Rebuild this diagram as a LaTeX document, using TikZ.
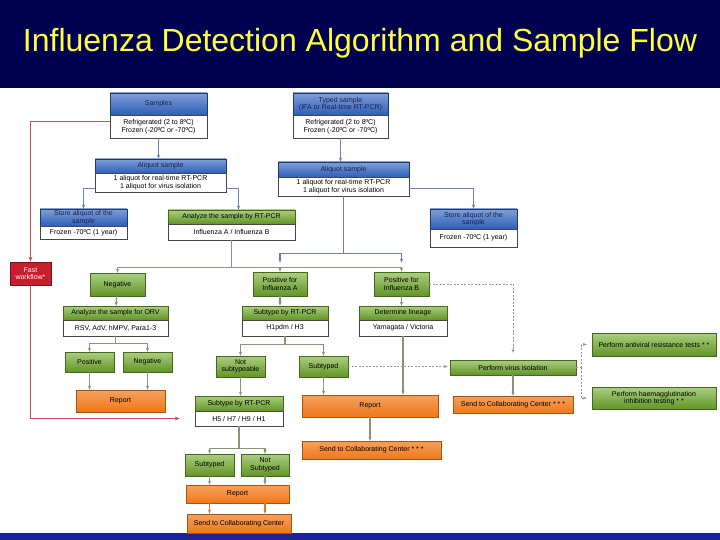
\documentclass[tikz,border=0pt]{standalone}
\usepackage{fontspec}
\setmainfont{Liberation Sans}
\usetikzlibrary{arrows.meta,shadows}
\definecolor{fluNavy}{RGB}{0,0,80}
\definecolor{fluYellow}{RGB}{255,255,60}
\definecolor{fluBlue}{RGB}{45,95,185}
\definecolor{fluGreen}{RGB}{115,175,45}
\definecolor{fluOrange}{RGB}{240,120,25}
\definecolor{fluRed}{RGB}{200,30,45}
\definecolor{fluInk}{RGB}{25,30,80}
\definecolor{barBlue}{RGB}{25,35,150}
\definecolor{lineBlue}{RGB}{110,130,175}
\definecolor{lineGreen}{RGB}{135,150,115}
\definecolor{lineGray}{RGB}{150,150,150}
\definecolor{lineRed}{RGB}{185,85,95}
\pgfdeclarelayer{back}
\pgfdeclarelayer{lines}
\pgfsetlayers{back,lines,main}
\tikzset{
  base/.style={inner sep=0pt, align=center, font=\fontsize{7}{7.5}\selectfont,
               drop shadow={opacity=0.25, shadow xshift=1pt, shadow yshift=-1pt}},
  bluehead/.style={base, draw=fluBlue!60!black, top color=fluBlue!60!white, bottom color=fluBlue, text=fluInk},
  bodybox/.style={base, draw=gray!55!black, fill=white},
  greenhead/.style={base, draw=fluGreen!60!black, top color=fluGreen!60!white, bottom color=fluGreen!85!black},
  orangebox/.style={base, draw=fluOrange!70!black, top color=fluOrange!70!white, bottom color=fluOrange},
  redbox/.style={base, draw=fluRed!60!black, fill=fluRed, text=white!85!pink},
  bluearrow/.style={-{Stealth[length=1.5mm]}, line width=1.1pt, draw=lineBlue},
  blueline/.style={line width=1.1pt, draw=lineBlue},
  greenarrow/.style={-{Stealth[length=1.5mm]}, line width=1.1pt, draw=lineGreen},
  greenline/.style={line width=1.1pt, draw=lineGreen},
  orangearrow/.style={-{Stealth[length=1.5mm]}, line width=1.1pt, draw=fluOrange!80!gray},
  redarrow/.style={-{Stealth[length=1.8mm]}, line width=1.1pt, draw=lineRed},
  dasharrow/.style={-{Stealth[length=1.4mm]}, line width=0.9pt, draw=lineGray, dash pattern=on 2pt off 1.5pt},
  dashline/.style={line width=0.9pt, draw=lineGray, dash pattern=on 2pt off 1.5pt}
}

\begin{document}
\begin{tikzpicture}[x=1pt, y=-1pt]
\useasboundingbox (0,0) rectangle (720,540);
\begin{pgfonlayer}{back}
\fill[white] (0,0) rectangle (720,540);
\fill[fluNavy] (0,0) rectangle (720,88);
\fill[barBlue] (0,533) rectangle (720,540);
\end{pgfonlayer}
\node[text=fluYellow, font=\fontsize{32}{34}\selectfont] (title) at (360,43) {Influenza Detection Algorithm and Sample Flow};

\node[redbox, minimum width=41pt, minimum height=23pt] (fast) at (30.5,273.5) {Fast\\workflow*};

% sample intake
\node[bluehead, minimum width=97pt, minimum height=22pt] (samples) at (158.5,104) {Samples};
\node[bodybox, minimum width=97pt, minimum height=23pt] (samplesB) at (158.5,126.5) {Refrigerated (2 to 8ºC)\\Frozen (-20ºC or -70ºC)};
\node[bluehead, minimum width=95pt, minimum height=22pt] (typed) at (340.5,104) {Typed sample\\(IFA or Real-time RT-PCR)};
\node[bodybox, minimum width=95pt, minimum height=23pt] (typedB) at (340.5,126.5) {Refrigerated (2 to 8ºC)\\Frozen (-20ºC or -70ºC)};

\node[bluehead, minimum width=131pt, minimum height=14pt] (aliq1) at (160.5,166) {Aliquot sample};
\node[bodybox, minimum width=131pt, minimum height=19pt] (aliq1B) at (160.5,182.5) {1 aliquot for real-time RT-PCR\\1 aliquot for virus isolation};
\node[bluehead, minimum width=131pt, minimum height=15pt] (aliq2) at (343.5,169.5) {Aliquot sample};
\node[bodybox, minimum width=131pt, minimum height=19pt] (aliq2B) at (343.5,186.5) {1 aliquot for real-time RT-PCR\\1 aliquot for virus isolation};

\node[bluehead, minimum width=87pt, minimum height=17pt] (store1) at (83.5,217.5) {Store aliquot of the\\sample};
\node[bodybox, minimum width=87pt, minimum height=13pt] (store1B) at (83.5,232.5) {Frozen -70ºC (1 year)};
\node[bluehead, minimum width=87pt, minimum height=20pt] (store2) at (473.5,219) {Store aliquot of the\\sample};
\node[bodybox, minimum width=87pt, minimum height=18pt] (store2B) at (473.5,238) {Frozen -70ºC (1 year)};

\node[greenhead, minimum width=127pt, minimum height=14pt] (analyze) at (231.5,217) {Analyze the sample by RT-PCR};
\node[bodybox, minimum width=127pt, minimum height=16pt] (analyzeB) at (231.5,232) {Influenza A / Influenza B};

% first results
\node[greenhead, minimum width=55pt, minimum height=23pt] (neg) at (117.5,284.5) {Negative};
\node[greenhead, minimum width=54pt, minimum height=24pt] (posA) at (280,284) {Positive for\\Influenza A};
\node[greenhead, minimum width=55pt, minimum height=24pt] (posB) at (401.5,284) {Positive for\\Influenza B};

\node[greenhead, minimum width=105pt, minimum height=14pt] (orv) at (115.5,313) {Analyze the sample for ORV};
\node[bodybox, minimum width=105pt, minimum height=16pt] (orvB) at (115.5,328) {RSV, AdV, hMPV, Para1-3};
\node[greenhead, minimum width=86pt, minimum height=14pt] (subA) at (285,313) {Subtype by RT-PCR};
\node[bodybox, minimum width=86pt, minimum height=16pt] (subAB) at (285,328) {H1pdm / H3};
\node[greenhead, minimum width=88pt, minimum height=14pt] (lineage) at (403,313) {Determine lineage};
\node[bodybox, minimum width=88pt, minimum height=16pt] (lineageB) at (403,328) {Yamagata / Victoria};

\node[greenhead, minimum width=49pt, minimum height=20pt] (pos) at (89.5,362) {Positive};
\node[greenhead, minimum width=49pt, minimum height=20pt] (neg2) at (147.5,362) {Negative};
\node[orangebox, minimum width=89pt, minimum height=22pt] (report1) at (120.5,401) {Report};

\node[greenhead, minimum width=49pt, minimum height=21pt] (notsub) at (240.5,366.5) {Not\\subtypeable};
\node[greenhead, minimum width=49pt, minimum height=21pt] (subtyped) at (323.5,366.5) {Subtyped};
\node[greenhead, minimum width=88pt, minimum height=15pt] (sub2) at (239,403.5) {Subtype by RT-PCR};
\node[bodybox, minimum width=88pt, minimum height=15pt] (sub2B) at (239,418.5) {H5 / H7 / H9 / H1};
\node[orangebox, minimum width=136pt, minimum height=22pt] (report2) at (370,406) {Report};
\node[orangebox, minimum width=139pt, minimum height=18pt] (send2) at (371.5,450) {Send to Collaborating Center * * *};

\node[greenhead, minimum width=49pt, minimum height=22pt] (subtyped2) at (209.5,465) {Subtyped};
\node[greenhead, minimum width=48pt, minimum height=22pt] (notsub2) at (265,465) {Not\\Subtyped};
\node[orangebox, minimum width=103pt, minimum height=18pt] (report3) at (237.5,494) {Report};
\node[orangebox, minimum width=104pt, minimum height=19pt] (send3) at (239,523.5) {Send to Collaborating Center};

% virus isolation branch
\node[greenhead, minimum width=126pt, minimum height=15pt] (virus) at (513,367.5) {Perform virus isolation};
\node[orangebox, minimum width=120pt, minimum height=17pt] (send1) at (513,404.5) {Send to Collaborating Center * * *};
\node[greenhead, minimum width=124pt, minimum height=23pt] (antiviral) at (654,344.5) {Perform antiviral resistance tests * *};
\node[greenhead, minimum width=124pt, minimum height=22pt] (hai) at (654,398) {Perform haemagglutination\\inhibition testing * *};

% connectors
\begin{pgfonlayer}{lines}
\draw[redarrow] ([yshift=5pt]samplesB.west) -| (fast.north);
\draw[redarrow] (fast.south) |- ([xshift=-15pt]sub2B.west);
\end{pgfonlayer}
\draw[bluearrow] (samplesB.south) -- (samplesB.south |- aliq1.north);
\draw[bluearrow] (typedB.south) -- (typedB.south |- aliq2.north);
\draw[bluearrow] ([yshift=-6pt]aliq1B.west) -| (store1.north);
\draw[bluearrow] ([yshift=-6pt]aliq1B.east) -| ([xshift=7pt]analyze.north);
\draw[bluearrow] ([yshift=-2pt]aliq2B.east) -| (store2.north);
\draw[blueline] (aliq2B.south) -- ++(0,57) coordinate (bsplit);
\draw[bluearrow] (bsplit) -| ([yshift=9pt]posA.north);
\draw[bluearrow] (bsplit) -| ([yshift=9pt]posB.north);
\draw[greenline] (analyzeB.south) -- ++(0,27) coordinate (gsplit);
\draw[greenarrow] (gsplit) -| (neg.north);
\draw[greenarrow] (gsplit) -| (posA.north);
\draw[greenarrow] (gsplit) -| (posB.north);
\draw[greenarrow] (neg) -- (orv);
\draw[greenarrow] (posA) -- (posA |- subA.north);
\draw[greenarrow] (posB) -- (posB |- lineage.north);
\draw[greenline] (orvB.south) -- ++(0,7) coordinate (osplit);
\draw[greenarrow] (osplit) -| (pos.north);
\draw[greenarrow] (osplit) -| (neg2.north);
\draw[greenarrow] (pos) -- (pos |- report1.north);
\draw[greenarrow] (neg2) -- (neg2 |- report1.north);
\draw[greenline] (subAB.south) -- ++(0,8) coordinate (asplit);
\draw[greenarrow] (asplit) -| (notsub.north);
\draw[greenarrow] (asplit) -| (subtyped.north);
\draw[greenarrow] (notsub) -- (notsub |- sub2.north);
\draw[greenarrow] (subtyped) -- (subtyped |- report2.north);
\draw[greenarrow] (lineageB) -- (lineageB |- report2.north);
\draw[greenarrow] (report2) -- (report2 |- send2.north);
\draw[greenline] (sub2B.south) -- ++(0,22) coordinate (hsplit);
\draw[greenarrow] (hsplit) -| (subtyped2.north);
\draw[greenarrow] (hsplit) -| (notsub2.north);
\draw[greenarrow] (subtyped2) -- (subtyped2 |- report3.north);
\draw[greenarrow] (notsub2) -- (notsub2 |- report3.north);
\draw[orangearrow] (report3.south -| subtyped2) -- (send3.north -| subtyped2);
\draw[orangearrow] (report3.south -| notsub2) -- (send3.north -| notsub2);
\draw[dasharrow] (posB.east) -| ([yshift=7pt]virus.north);
\draw[dasharrow] (subtyped.east) -- ([xshift=-2pt]subtyped.east -| virus.west);
\draw[greenarrow] (virus) -- (virus |- send1.north);
\draw[dashline] (virus.east) -- ++(5,0) coordinate (vbr);
\draw[dasharrow] (vbr) |- ([xshift=-5pt]antiviral.west);
\draw[dasharrow] (vbr) |- ([xshift=-5pt]hai.west);
\end{tikzpicture}
\end{document}
